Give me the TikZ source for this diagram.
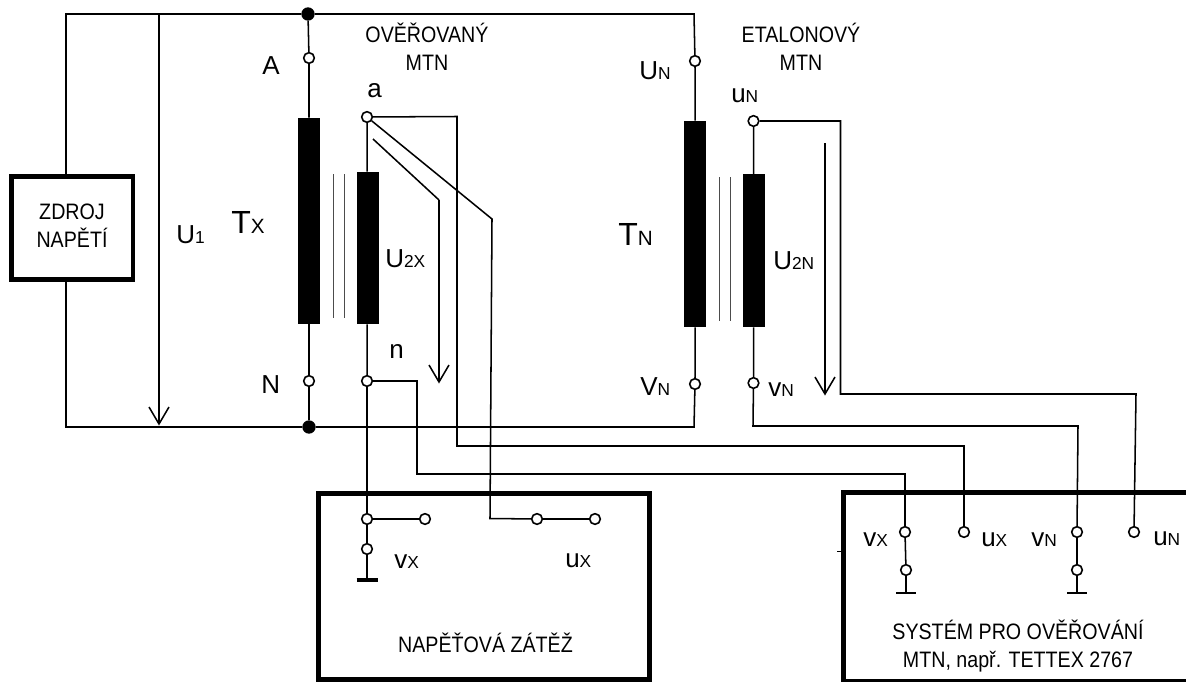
\documentclass[tikz,border=0pt]{standalone}
\usepackage{fontspec}
\setmainfont{Liberation Sans}
\newfontfamily\condfont[FakeStretch=0.88]{Liberation Sans}
\newcommand{\sm}[1]{{\fontsize{13}{15}\selectfont #1}}
\newcommand{\smb}[1]{{\fontsize{15.5}{18}\selectfont #1}}
\begin{document}
\begin{tikzpicture}[x=0.75pt,y=-0.75pt,
  wire/.style={draw=black,line width=1.15pt,line join=miter},
  corel/.style={draw=black!70,line width=0.75pt},
  coil/.style={fill=black,draw=none,inner sep=0pt,minimum width=16.5pt},
  term/.style={circle,draw=black,fill=white,line width=1.2pt,minimum size=8pt,inner sep=0pt},
  dot/.style={circle,fill=black,minimum size=10pt,inner sep=0pt},
  lab/.style={inner sep=0pt,anchor=base west,font=\fontsize{19.5}{22}\selectfont},
  big/.style={inner sep=0pt,anchor=base west,font=\fontsize{24}{26}\selectfont},
  capt/.style={inner sep=0pt,align=center,font=\condfont\fontsize{16.75}{21}\selectfont},
  hbox/.style={draw=black,inner sep=0pt,line width=3.4pt}]
\useasboundingbox (0,0) rectangle (1186,682);
\fill[white] (0,0) rectangle (1186,682);

% blocks
\node[hbox,minimum width=91pt,minimum height=77.25pt] (zdroj) at (72.25,228) {};
\node[capt] (zdrojlab) at (72,226) {ZDROJ\\NAPĚTÍ};
\node[hbox,line width=3.8pt,minimum width=248.25pt,minimum height=139.9pt] (zatez) at (484,586.75) {};
\node[capt,anchor=base] (zatezlab) at (485.5,652) {NAPĚŤOVÁ ZÁTĚŽ};

% system box, open on the right
\coordinate (s1) at (1186,492.5);
\coordinate (s2) at (843.5,492.5);
\coordinate (s3) at (843.5,681.5);
\coordinate (s4) at (1186,681.5);
\draw[draw=black,line width=3.6pt,line join=miter] (s1) -- (s2) -- (s3) -- (s4);
\coordinate (tk1) at (837,551.5);
\coordinate (tk2) at (843,551.5);
\draw[wire] (tk1) -- (tk2);
\node[capt,anchor=center] (syslab) at (1018,646) {SYSTÉM PRO OVĚŘOVÁNÍ\\MTN, např. TETTEX 2767};

% bus
\node[dot] (dtop) at (308,14) {};
\node[dot] (dbot) at (309,427) {};
\coordinate (tl) at (66,14);
\coordinate (bl) at (66,427);
\coordinate (tr) at (694,14);
\coordinate (br) at (694,427);

% coils
\node[coil,minimum height=154.5pt] (px) at (309,221) {};
\node[coil,minimum height=114pt] (sx) at (367.5,248) {};
\node[coil,minimum height=154.5pt] (pn) at (695.25,224) {};
\node[coil,minimum height=114.4pt] (sn) at (753.75,250.75) {};

% terminals
\node[term] (tA) at (309,58) {};
\node[term] (tN) at (309,381) {};
\node[term] (ta) at (367,117) {};
\node[term] (tn) at (367,381) {};
\node[term] (tUN) at (695,61) {};
\node[term] (tVN) at (695,384) {};
\node[term] (tuN) at (753.5,121) {};
\node[term] (tvN) at (753.5,383) {};
\node[term] (z1) at (367,519) {};
\node[term] (z2) at (425,519) {};
\node[term] (z3) at (367,549) {};
\node[term] (z4) at (537,519) {};
\node[term] (z5) at (595,519) {};
\node[term] (sv1) at (905,532) {};
\node[term] (sv2) at (906,570) {};
\node[term] (su1) at (964,532) {};
\node[term] (sn1) at (1077,532) {};
\node[term] (sn2) at (1077,570) {};
\node[term] (su2) at (1134,532) {};

% source wiring
\draw[wire] (zdroj.north -| tl) -- (tl) -- (dtop) -- (tr) -- (tUN);
\draw[wire] (zdroj.south -| bl) -- (bl) -- (dbot) -- (br) -- (tVN);
\draw[wire] (dtop) -- (tA) -- (px);
\draw[wire] (dbot) -- (tN) -- (px);
\draw[wire] (tUN) -- (pn);
\draw[wire] (tVN) -- (pn);
\draw[wire] (ta) -- (sx);
\draw[wire] (tn) -- (sx);
\draw[wire] (tuN) -- (sn);
\draw[wire] (tvN) -- (sn);

% cores
\foreach \n/\x/\a/\b in {c1/333/174/318,c2/344/174/318,c3/719.5/177/321,c4/730/177/321}{
  \coordinate (\n a) at (\x,\a);
  \coordinate (\n b) at (\x,\b);
  \draw[corel] (\n a) -- (\n b);
}

% measuring wires
\coordinate (a1) at (457,116.5);
\coordinate (a2) at (457,446);
\coordinate (a3) at (964,446);
\draw[wire] (ta) -- (a1) -- (a2) -- (a3) -- (su1);
\coordinate (b1) at (492,219);
\coordinate (b2) at (490,518.5);
\draw[wire] (ta) -- (b1) -- (b2) -- (z4);
\coordinate (n1) at (417,381);
\coordinate (n2) at (417,474);
\coordinate (n3) at (905,474);
\draw[wire] (tn) -- (n1) -- (n2) -- (n3) -- (sv1);
\draw[wire] (tn) -- (z1);
\draw[wire] (z1) -- (z2);
\draw[wire] (z1) -- (z3);
\draw[wire] (z4) -- (z5);
\coordinate (u1) at (840.5,121);
\coordinate (u2) at (840.5,394);
\coordinate (u3) at (1136,394);
\draw[wire] (tuN) -- (u1) -- (u2) -- (u3) -- (su2);
\coordinate (v1) at (753,426);
\coordinate (v2) at (1078,426);
\draw[wire] (tvN) -- (v1) -- (v2) -- (sn1);
\draw[wire] (sv1) -- (sv2);
\draw[wire] (sn1) -- (sn2);

% grounds
\foreach \t/\x/\y/\h/\w in {z3/367/580/10.5/2.6pt,sv2/906/593/10/1.15pt,sn2/1077/593/10/1.15pt}{
  \coordinate (g\t) at (\x,\y);
  \coordinate (gl\t) at (\x-\h,\y);
  \coordinate (gr\t) at (\x+\h,\y);
  \draw[wire] (\t) -- (g\t);
  \draw[wire,line width=\w] (gl\t) -- (gr\t);
}

% voltage arrows
\foreach \n/\sx/\sy/\x/\y in {ua/159/14/159/424,ub/439/200/439/382,uc/825/143/825/394}{
  \coordinate (\n s) at (\sx,\sy);
  \coordinate (\n e) at (\x,\y);
  \coordinate (\n l) at (\x-10,\y-17);
  \coordinate (\n r) at (\x+10,\y-17);
  \draw[wire] (\n s) -- (\n e);
  \draw[wire] (\n l) -- (\n e) -- (\n r);
}
\coordinate (ub0) at (373,139);
\draw[wire] (ub0) -- (ubs);

% captions
\node[capt] (c1) at (427,47) {OVĚŘOVANÝ\\MTN};
\node[capt] (c2) at (801,47) {ETALONOVÝ\\MTN};

% labels
\node[lab] (lA) at (262,74) {A};
\node[lab] (lN) at (261,393) {N};
\node[lab] (la) at (367,97) {a};
\node[lab] (ln) at (389,358) {n};
\node[lab] (lU1) at (176,243) {U\sm{1}};
\node[big] (lTx) at (231,233) {T\smb{X}};
\node[big] (lTn) at (618,245) {T\smb{N}};
\node[lab] (lU2x) at (385,267) {U\sm{2X}};
\node[lab] (lU2n) at (773,269) {U\sm{2N}};
\node[lab] (lUN) at (639,79) {U\sm{N}};
\node[lab] (lVN) at (640,395) {V\sm{N}};
\node[lab] (luNt) at (731,102) {u\sm{N}};
\node[lab] (lvNt) at (768,396) {v\sm{N}};
\node[lab] (lvx) at (394,568) {v\sm{X}};
\node[lab] (lux) at (565,567) {u\sm{X}};
\node[lab] (svx) at (863,546) {v\sm{X}};
\node[lab] (sux) at (981,546) {u\sm{X}};
\node[lab] (svn) at (1031,546) {v\sm{N}};
\node[lab] (sun) at (1153,545) {u\sm{N}};
\end{tikzpicture}
\end{document}
